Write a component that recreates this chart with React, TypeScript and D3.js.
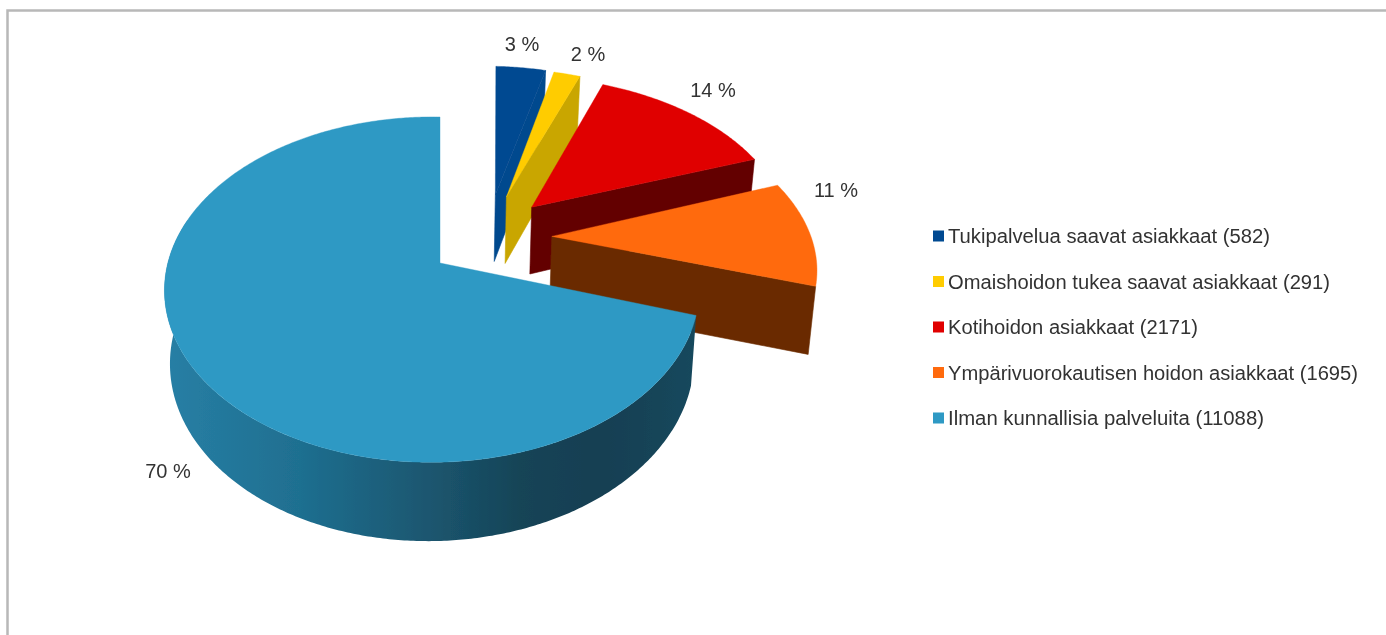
import React from "react";
import * as d3 from "d3";

const categories = [
  "Tukipalvelua saavat asiakkaat (582)",
  "Omaishoidon tukea saavat asiakkaat (291)",
  "Kotihoidon asiakkaat (2171)",
  "Ympärivuorokautisen hoidon asiakkaat (1695)",
  "Ilman kunnallisia palveluita (11088)",
];
const values = [582, 291, 2171, 1695, 11088];
const percentLabels = ["3 %", "2 %", "14 %", "11 %", "70 %"];
const topColors = ["#034a91", "#ffcc00", "#e00000", "#ff6a0d", "#2e99c4"];
const sideColors = ["#03498e", "#c9a600", "#640000", "#6b2c00", "#1a5068"];

// chart styling / layout
const explode: [number, number][] = [
  [0.225, -0.434],
  [0.27, -0.421],
  [0.37, -0.353],
  [0.44, -0.164],
  [0, 0],
];
const stretch = [1.02, 1.09, 1.06, 1.065, 1];
const lean = [0.035, 0.012, 0.025, 0, 0];
const labelPos: [number, number][] = [
  [522, 51],
  [588, 61],
  [713, 97],
  [836, 197],
  [168, 478],
];
const legendWidths = [322, 382, 250, 410, 316];

const CX = 440, CY = 263, R = 264, A = 168.5, P = 0.154, Q = 0.03;
const BOTTOM_SCALE = 0.98, DEPTH = 70;

function project(u: number, v: number, bottom: boolean): [number, number] {
  const w = 1 - P * v + Q * u;
  const s = bottom ? BOTTOM_SCALE : 1;
  return [
    CX + (R * s * u) / w,
    CY + (A * s * v) / w + (bottom ? DEPTH / w : 0),
  ];
}

const closed = d3.line<[number, number]>().curve(d3.curveLinearClosed);

function rim(a: number, off: [number, number], k: number, l: number): [number, number] {
  return [k * Math.sin(a) + l * Math.cos(a) + off[0], -Math.cos(a) + off[1]];
}

function arcPts(a0: number, a1: number, off: [number, number], k: number, l: number, bottom: boolean) {
  const n = Math.max(2, Math.ceil(Math.abs(a1 - a0) / 0.01));
  return d3.range(n + 1).map((i) => {
    const [u, v] = rim(a0 + ((a1 - a0) * i) / n, off, k, l);
    return project(u, v, bottom);
  });
}

export default function App() {
  const arcs = d3.pie<number>().sort(null)(values);
  const legendY = d3.scaleLinear().domain([0, 4]).range([236, 418]);
  const color = d3.scaleOrdinal<number, string>().domain(d3.range(5)).range(topColors);
  const side = d3.scaleOrdinal<number, string>().domain(d3.range(5)).range(sideColors);
  const wallX = d3.scaleLinear().domain([165, 695]).range([0, 1]);

  return (
    <svg
      width={1386}
      height={635}
      style={{ position: "absolute", left: 0, top: 0, background: "#fff" }}
    >
      <defs>
        <linearGradient id="wall" gradientUnits="userSpaceOnUse" x1={165} x2={695} y1={0} y2={0}>
          <stop offset={0} stopColor="#277fa5" />
          <stop offset={wallX(300)} stopColor="#1f6f90" />
          <stop offset={wallX(430)} stopColor="#1b566f" />
          <stop offset={wallX(520)} stopColor="#164457" />
          <stop offset={wallX(600)} stopColor="#153f52" />
          <stop offset={1} stopColor="#17485d" />
        </linearGradient>
        <filter id="soft" x="-5%" y="-5%" width="110%" height="110%">
          <feGaussianBlur stdDeviation="0.6" />
        </filter>
        <filter id="softText" x="-5%" y="-20%" width="110%" height="140%">
          <feGaussianBlur stdDeviation="0.75" />
        </filter>
      </defs>
      <g filter="url(#soft)">
        <rect x={7.5} y={10.5} width={1500} height={800} fill="#fff" stroke="#b8b8b8" strokeWidth={2.5} />
        {arcs.map((d, i) => {
          const off = explode[i];
          const k = stretch[i];
          const l = lean[i];
          const top = arcPts(d.startAngle, d.endAngle, off, k, l, false);
          const tipT = project(off[0], off[1], false);
          const tipB = project(off[0], off[1], true);
          const isMain = i === 4;
          const [eu, ev] = rim(d.endAngle, off, k, l);
          const endT = project(eu, ev, false);
          const endB = project(eu, ev, true);
          let wall: [number, number][] = [];
          if (isMain) {
            const a1 = d.startAngle;
            const a2 = (285 * Math.PI) / 180;
            wall = [...arcPts(a1, a2, off, k, l, false), ...arcPts(a2, a1, off, k, l, true)];
          }
          return (
            <g key={categories[i]}>
              {!isMain && <path d={closed([tipT, endT, endB, tipB])!} fill={side(i)} stroke={side(i)} strokeWidth={0.6} />}
              {isMain && <path d={closed(wall)!} fill="url(#wall)" />}
              <path d={closed([tipT, ...top])!} fill={color(i)} stroke={color(i)} strokeWidth={0.4} />
            </g>
          );
        })}
      </g>
      <g filter="url(#softText)">
        {percentLabels.map((t, i) => (
          <text
            key={t}
            x={labelPos[i][0]}
            y={labelPos[i][1]}
            textAnchor="middle"
            fontFamily="'Liberation Sans', Arial, sans-serif"
            fontSize={20}
            fill="#333333"
          >
            {t}
          </text>
        ))}
        {categories.map((t, i) => (
          <g key={t}>
            <rect x={933} y={legendY(i) - 5.5} width={11} height={11} fill={color(i)} />
            <text
              x={948}
              y={legendY(i) + 7}
              fontFamily="'Liberation Sans', Arial, sans-serif"
              fontSize={20}
              fill="#333333"
              textLength={legendWidths[i]}
              lengthAdjust="spacingAndGlyphs"
            >
              {t}
            </text>
          </g>
        ))}
      </g>
    </svg>
  );
}
